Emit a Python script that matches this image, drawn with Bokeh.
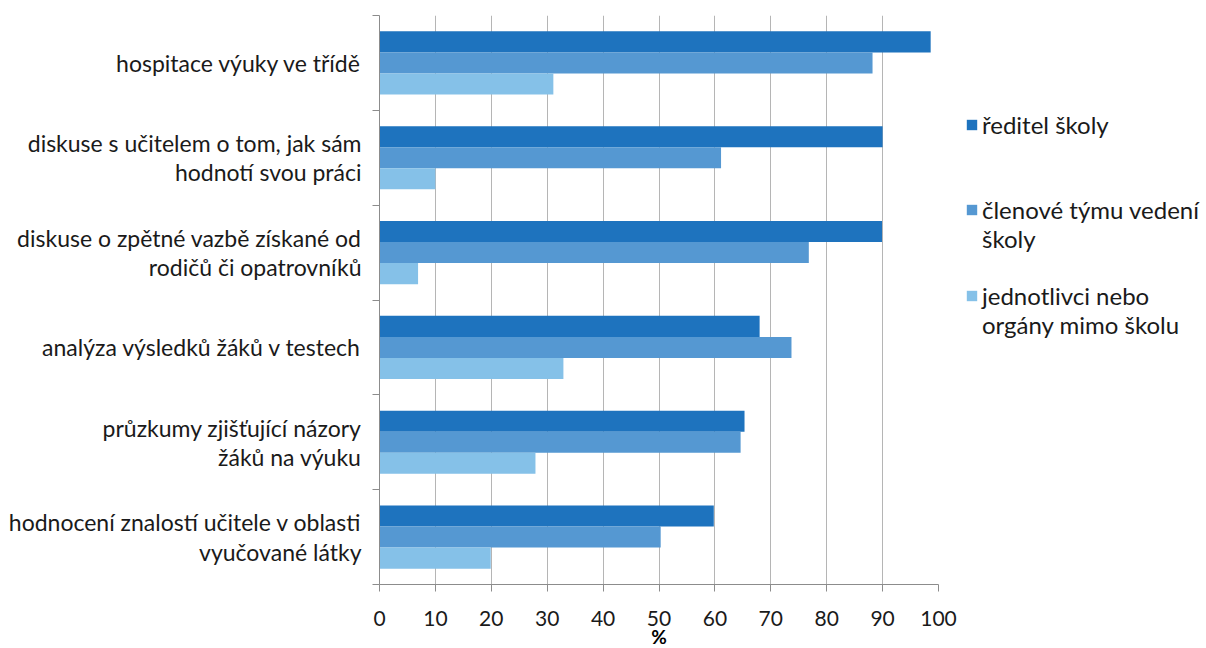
from bokeh.plotting import figure
from bokeh.models import Range1d, FixedTicker, LinearAxis, Legend, LegendItem
from bokeh.embed import file_html
from bokeh.resources import INLINE

categories = [
    "hospitace výuky ve třídě",
    "diskuse s učitelem o tom, jak sám\nhodnotí svou práci",
    "diskuse o zpětné vazbě získané od\nrodičů či opatrovníků",
    "analýza výsledků žáků v testech",
    "průzkumy zjišťující názory\nžáků na výuku",
    "hodnocení znalostí učitele v oblasti\nvyučované látky",
]
series_names = [
    "ředitel školy",
    "členové týmu vedení\nškoly",
    "jednotlivci nebo\norgány mimo školu",
]
reditel = [98.6, 90.0, 89.9, 68.0, 65.3, 59.8]
clenove = [88.2, 61.1, 76.8, 73.7, 64.6, 50.3]
jednotlivci = [31.1, 10.0, 6.9, 32.9, 27.9, 19.9]
series_values = [reditel, clenove, jednotlivci]
colors = ["#1E73BE", "#5598D2", "#85C1E8"]
x_ticks = list(range(0, 101, 10))
x_label = "%"

FONT = "Lato"
n = len(categories)
bar_h = 0.222
centers = [n - 0.5 - i for i in range(n)]
offsets = [bar_h, 0.0, -bar_h]

p = figure(frame_width=559, frame_height=569, output_backend="svg", toolbar_location=None,
           x_range=Range1d(0, 100), y_range=Range1d(0, n),
           y_axis_location=None, x_axis_location="below",
           min_border_left=379, min_border_right=262, min_border_top=15, min_border_bottom=40)
p.outline_line_color = None
p.background_fill_color = "white"
p.border_fill_color = "white"

renderers = []
for vals, col, off in zip(series_values, colors, offsets):
    r = p.hbar(y=[c + off for c in centers], right=vals, left=0, height=bar_h,
               fill_color=col, line_color=None)
    renderers.append(r)

# x axis
xa = p.xaxis[0]
xa.ticker = FixedTicker(ticks=x_ticks)
xa.axis_line_color = "#8C8C8C"
xa.major_tick_line_color = "#8C8C8C"
xa.major_tick_out = 7
xa.major_tick_in = 0
xa.minor_tick_line_color = None
xa.major_label_text_font = FONT
xa.major_label_text_font_size = "21px"
xa.major_label_text_color = "#1a1a1a"
xa.major_label_standoff = 19
xa.axis_label = x_label
xa.axis_label_text_font = FONT
xa.axis_label_text_font_style = "bold"
xa.axis_label_text_font_size = "19px"
xa.axis_label_text_color = "#000000"
xa.axis_label_standoff = -4

p.xgrid.ticker = FixedTicker(ticks=x_ticks)
p.xgrid.grid_line_color = "#B5B5B5"
p.ygrid.grid_line_color = None

# y axis: ticks at category boundaries (no labels)
tick_axis = LinearAxis(ticker=FixedTicker(ticks=list(range(n + 1))),
                       axis_line_color="#8C8C8C", major_tick_line_color="#8C8C8C",
                       major_tick_out=7, major_tick_in=0, minor_tick_line_color=None,
                       major_label_overrides={i: "" for i in range(n + 1)},
                       major_label_standoff=0)
p.add_layout(tick_axis, "left")

overrides = {c: lab for c, lab in zip(centers, categories)}
label_axis = LinearAxis(ticker=FixedTicker(ticks=centers), major_label_overrides=overrides,
                        axis_line_color=None, major_tick_line_color=None,
                        minor_tick_line_color=None, major_label_standoff=5,
                        major_label_text_font=FONT, major_label_text_font_size="23px",
                        major_label_text_color="#1a1a1a", major_label_text_line_height=1.05)
p.add_layout(label_axis, "left")

# legend rows (continuation lines / gaps use invisible glyphs)
blank = p.hbar(y=[], right=[], height=0.1, fill_alpha=0, line_alpha=0)
rows = [
    (series_names[0], renderers[0]),
    ("", blank), ("", blank),
    (series_names[1].split("\n")[0], renderers[1]),
    (series_names[1].split("\n")[1], blank),
    ("", blank),
    (series_names[2].split("\n")[0], renderers[2]),
    (series_names[2].split("\n")[1], blank),
]
legend = Legend(items=[LegendItem(label=s, renderers=[r]) for s, r in rows],
                location=(27, 245), orientation="vertical",
                label_text_font=FONT, label_text_font_size="24px", label_text_color="#1a1a1a",
                glyph_width=13, glyph_height=13, spacing=0, padding=0, margin=0,
                label_height=28,
                border_line_color=None, background_fill_alpha=0, label_standoff=4)
p.add_layout(legend, "right")

open("out.html", "w").write(file_html(p, INLINE))
